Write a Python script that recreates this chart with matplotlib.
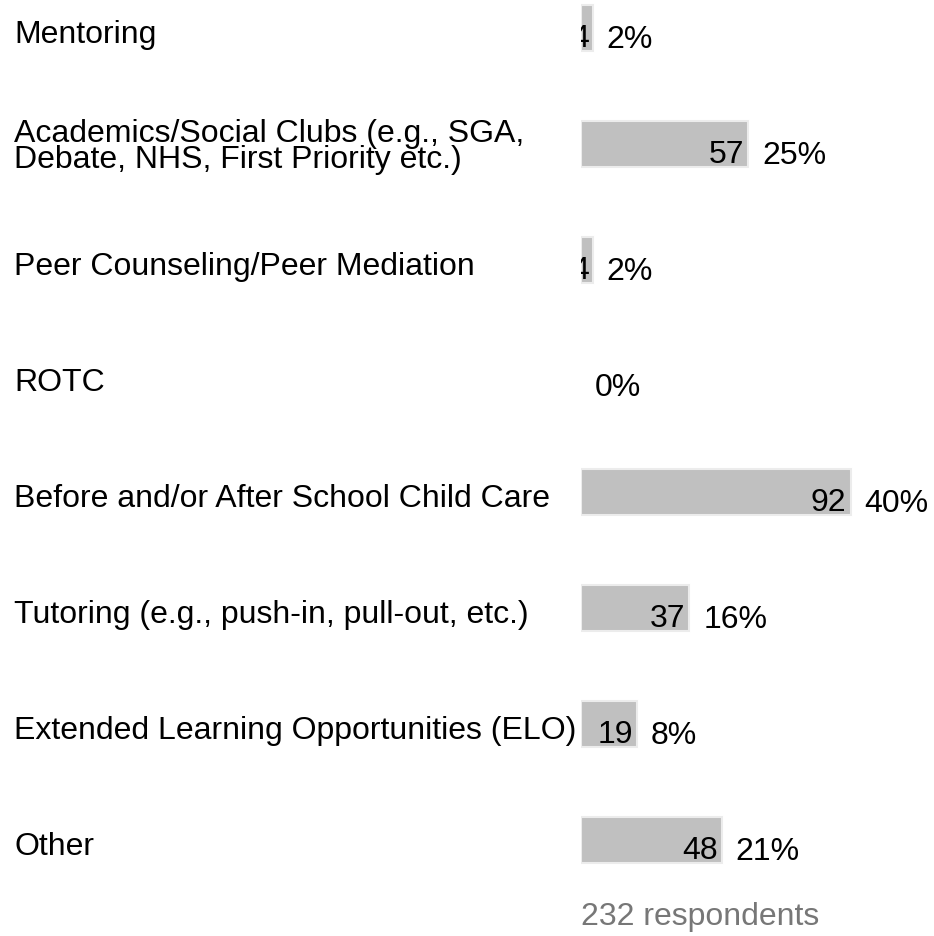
import matplotlib.pyplot as plt
from matplotlib.transforms import blended_transform_factory
plt.rcParams.update({"font.family": ["Liberation Sans", "DejaVu Sans"], "font.size": 23})

categories = [
    "Mentoring",
    "Academics/Social Clubs (e.g., SGA,\nDebate, NHS, First Priority etc.)",
    "Peer Counseling/Peer Mediation",
    "ROTC",
    "Before and/or After School Child Care",
    "Tutoring (e.g., push-in, pull-out, etc.)",
    "Extended Learning Opportunities (ELO)",
    "Other",
]
counts = [4, 57, 4, 0, 92, 37, 19, 48]
percents = ["2%", "25%", "2%", "0%", "40%", "16%", "8%", "21%"]
respondents = 232

W, H = 934, 936
fig = plt.figure(figsize=(W / 100, H / 100), dpi=100)
# axes: x starts at px 581, 2.93 px per unit; rows every 116 px starting at 28
ax = fig.add_axes([581 / W, 1 - 898 / H, 293 / W, 898 / H])
ax.set_xlim(0, 100)
ax.set_ylim(7.5, -28 / 116)
ax.axis("off")

ypos = list(range(len(categories)))
bars = ax.barh(ypos, counts, height=0.4, color="#c0c0c0", edgecolor="#ececec",
               linewidth=[1.5 if c > 0 else 0 for c in counts])

lab_tr = blended_transform_factory(fig.transFigure, ax.transData)
px = 100 / 293  # one pixel in data units
for y, cat, c, p, bar in zip(ypos, categories, counts, percents, bars):
    nlines = cat.count("\n") + 1
    ax.text(14 / W, y + 0.06 - 0.035 * (nlines - 1), cat, transform=lab_tr,
            ha="left", va="center", linespacing=0.82, clip_on=False)
    if c > 0:
        t = ax.text(c - 4 * px, y + 0.095, str(c), ha="right", va="center")
        t.set_clip_path(bar)
        t.set_clip_on(True)
    ax.text(c + 14 * px, y + 0.1, p, ha="left", va="center", clip_on=False)

ax.text(0, 7.66, f"{respondents} respondents", color="#777777", ha="left", va="center",
        clip_on=False)

fig.savefig("out.png", dpi=100)
